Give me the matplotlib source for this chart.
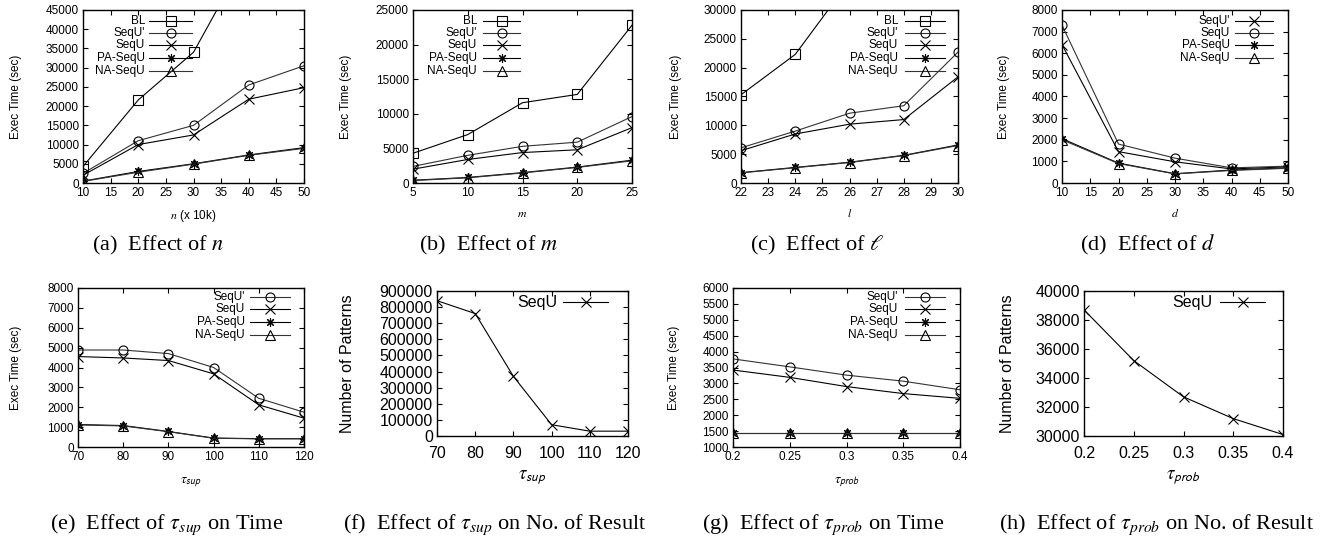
import matplotlib
matplotlib.use('Agg')
import matplotlib.pyplot as plt

plt.rcParams['font.family'] = ['Liberation Sans', 'DejaVu Sans']
plt.rcParams['mathtext.fontset'] = 'stix'

# ---------------- data ----------------
# (a) effect of n
a_x = [10, 20, 30, 40, 50]
a_bl = [4300, 21600, 34000, 60000, 85000]
a_sequp = [2500, 11000, 15000, 25500, 30500]
a_sequ = [2000, 10000, 12500, 21800, 24800]
a_pa = [500, 3000, 5000, 7300, 9200]
a_na = [400, 2800, 4900, 7200, 9000]

# (b) effect of m
b_x = [5, 10, 15, 20, 25]
b_bl = [4300, 7000, 11600, 12800, 22800]
b_sequp = [2400, 4000, 5300, 5900, 9600]
b_sequ = [2000, 3400, 4400, 4800, 8000]
b_pa = [400, 800, 1500, 2300, 3300]
b_na = [350, 750, 1450, 2250, 3200]

# (c) effect of l
c_x = [22, 24, 26, 28, 30]
c_bl = [15300, 22300, 35000, 45000, 60000]
c_sequp = [6100, 9000, 12100, 13400, 22700]
c_sequ = [5600, 8500, 10200, 11000, 18400]
c_pa = [1800, 2700, 3600, 4800, 6600]
c_na = [1750, 2650, 3550, 4750, 6500]

# (d) effect of d
d_x = [10, 20, 30, 40, 50]
d_sequp_x = [6400, 1450, 980, 650, 750]
d_sequ_o = [7300, 1800, 1150, 700, 780]
d_pa = [2050, 920, 430, 600, 700]
d_na = [2000, 900, 420, 580, 680]

# (e) effect of tau_sup on time
e_x = [70, 80, 90, 100, 110, 120]
e_sequp = [4880, 4880, 4700, 4000, 2450, 1750]
e_sequ = [4550, 4480, 4350, 3680, 2120, 1450]
e_pa = [1130, 1080, 780, 450, 420, 420]
e_na = [1110, 1060, 770, 440, 410, 410]

# (f) effect of tau_sup on number of results
f_x = [70, 80, 90, 100, 110, 120]
f_sequ = [840000, 760000, 370000, 70000, 30000, 30000]

# (g) effect of tau_prob on time
g_x = [0.2, 0.25, 0.3, 0.35, 0.4]
g_sequp = [3770, 3520, 3260, 3070, 2800]
g_sequ = [3420, 3190, 2900, 2680, 2530]
g_pa = [1450, 1450, 1450, 1450, 1450]
g_na = [1440, 1440, 1440, 1440, 1440]

# (h) effect of tau_prob on number of results
h_x = [0.2, 0.25, 0.3, 0.35, 0.4]
h_sequ = [38700, 35200, 32700, 31200, 30100]

prob_ticklabels = ['0.2', '0.25', '0.3', '0.35', '0.4']

# ---------------- styles ----------------
STY = {
    's': dict(marker='s', color='black'),
    'o': dict(marker='o', color='#333333'),
    'x': dict(marker='x', color='black'),
    '*': dict(marker=(8, 2, 0), color='black'),
    '^': dict(marker='^', color='#333333'),
}
LW = 0.8
MS = 6.5


def plot_series(ax, x, y, key):
    st = STY[key]
    ax.plot(x, y, color=st['color'], lw=LW, marker=st['marker'], ms=MS,
            mfc='none', mec='black', mew=0.8, clip_on=True)


def manual_legend(ax, entries, xt, x0, x1, ys, fs):
    for (label, key), y in zip(entries, ys):
        st = STY[key]
        ax.text(xt, y, label, transform=ax.transAxes, ha='right', va='center', fontsize=fs)
        ax.plot([x0, x1], [y, y], transform=ax.transAxes, color=st['color'], lw=LW)
        ax.plot([(x0 + x1) / 2], [y], transform=ax.transAxes, marker=st['marker'],
                ms=MS, mfc='none', mec='black', mew=0.8, lw=0)


def style_axes(ax, xticks, yticks, xlim, ylim, fs, xticklabels=None, xpad=3):
    ax.set_xlim(xlim)
    ax.set_ylim(ylim)
    ax.set_xticks(xticks)
    if xticklabels is not None:
        ax.set_xticklabels(xticklabels)
    ax.set_yticks(yticks)
    ax.tick_params(direction='in', top=True, right=True, length=3.5, width=0.8,
                   labelsize=fs, pad=3)
    ax.tick_params(axis='x', pad=xpad)
    for s in ax.spines.values():
        s.set_linewidth(1.0)


W, H = 1325, 539
fig = plt.figure(figsize=(W / 100, H / 100), dpi=100)


def axes_px(l, r, t, b):
    return fig.add_axes([l / W, 1 - b / H, (r - l) / W, (b - t) / H])


FS = 8.5
FSB = 11.5
five = [("BL", 's'), ("SeqU'", 'o'), ("SeqU", 'x'), ("PA-SeqU", '*'), ("NA-SeqU", '^')]
four = [("SeqU'", 'o'), ("SeqU", 'x'), ("PA-SeqU", '*'), ("NA-SeqU", '^')]
rows5 = [0.936, 0.867, 0.798, 0.725, 0.650]

# (a)
ax = axes_px(83, 304, 10, 183)
for y, k in [(a_bl, 's'), (a_sequp, 'o'), (a_sequ, 'x'), (a_pa, '*'), (a_na, '^')]:
    plot_series(ax, a_x, y, k)
manual_legend(ax, five, 0.28, 0.30, 0.495, rows5, FS)
style_axes(ax, range(10, 51, 5), range(0, 45001, 5000), (10, 50), (0, 45000), FS)
ax.set_ylabel('Exec Time (sec)', fontsize=FS)
ax.yaxis.set_label_coords(-0.276, 0.5)
ax.set_xlabel(r'$n$ (x 10k)', fontsize=FS)
ax.xaxis.set_label_coords(0.5, -0.145)

# (b)
ax = axes_px(413, 632, 10, 183)
for y, k in [(b_bl, 's'), (b_sequp, 'o'), (b_sequ, 'x'), (b_pa, '*'), (b_na, '^')]:
    plot_series(ax, b_x, y, k)
manual_legend(ax, five, 0.292, 0.32, 0.49, rows5, FS)
style_axes(ax, range(5, 26, 5), range(0, 25001, 5000), (5, 25), (0, 25000), FS)
ax.set_ylabel('Exec Time (sec)', fontsize=FS)
ax.yaxis.set_label_coords(-0.279, 0.5)
ax.set_xlabel(r'$m$', fontsize=FS)
ax.xaxis.set_label_coords(0.5, -0.145)

# (c)
ax = axes_px(741, 958, 10, 183)
for y, k in [(c_bl, 's'), (c_sequp, 'o'), (c_sequ, 'x'), (c_pa, '*'), (c_na, '^')]:
    plot_series(ax, c_x, y, k)
manual_legend(ax, five, 0.724, 0.756, 0.94, rows5, FS)
style_axes(ax, range(22, 31, 1), range(0, 30001, 5000), (22, 30), (0, 30000), FS)
ax.set_ylabel('Exec Time (sec)', fontsize=FS)
ax.yaxis.set_label_coords(-0.272, 0.5)
ax.set_xlabel(r'$l$', fontsize=FS)
ax.xaxis.set_label_coords(0.5, -0.145)

# (d)
ax = axes_px(1062, 1288, 10, 183)
for y, k in [(d_sequp_x, 'x'), (d_sequ_o, 'o'), (d_pa, '*'), (d_na, '^')]:
    plot_series(ax, d_x, y, k)
manual_legend(ax, [("SeqU'", 'x'), ("SeqU", 'o'), ("PA-SeqU", '*'), ("NA-SeqU", '^')],
              0.743, 0.765, 0.934, rows5[:4], FS)
style_axes(ax, range(10, 51, 5), range(0, 8001, 1000), (10, 50), (0, 8000), FS)
ax.set_ylabel('Exec Time (sec)', fontsize=FS)
ax.yaxis.set_label_coords(-0.23, 0.5)
ax.set_xlabel(r'$d$', fontsize=FS)
ax.xaxis.set_label_coords(0.5, -0.145)

rows4b = [0.943, 0.866, 0.785, 0.707]

# (e)
ax = axes_px(78, 304, 288, 447)
for y, k in [(e_sequp, 'o'), (e_sequ, 'x'), (e_pa, '*'), (e_na, '^')]:
    plot_series(ax, e_x, y, k)
manual_legend(ax, four, 0.739, 0.763, 0.94, rows4b, FS)
style_axes(ax, range(70, 121, 10), range(0, 8001, 1000), (70, 120), (0, 8000), FS)
ax.set_ylabel('Exec Time (sec)', fontsize=FS)
ax.yaxis.set_label_coords(-0.248, 0.5)
ax.set_xlabel(r'$\tau_{\mathsf{sup}}$', fontsize=FS + 1.5)
ax.xaxis.set_label_coords(0.5, -0.18)

# (f)
ax = axes_px(437, 628, 291, 436)
plot_series(ax, f_x, f_sequ, 'x')
manual_legend(ax, [("SeqU", 'x')], 0.628, 0.66, 0.895, [0.924], FSB)
style_axes(ax, range(70, 121, 10), range(0, 900001, 100000), (70, 120), (0, 900000), FSB,
           xpad=7)
ax.set_ylabel('Number of Patterns', fontsize=FSB)
ax.yaxis.set_label_coords(-0.43, 0.5)
ax.set_xlabel(r'$\tau_{\mathsf{sup}}$', fontsize=FSB + 2)
ax.xaxis.set_label_coords(0.5, -0.22)

# (g)
ax = axes_px(733, 960, 288, 447)
for y, k in [(g_sequp, 'o'), (g_sequ, 'x'), (g_pa, '*'), (g_na, '^')]:
    plot_series(ax, g_x, y, k)
manual_legend(ax, four, 0.727, 0.758, 0.934, rows4b, FS)
style_axes(ax, g_x, range(1000, 6001, 500), (0.2, 0.4), (1000, 6000), FS,
           xticklabels=prob_ticklabels)
ax.set_ylabel('Exec Time (sec)', fontsize=FS)
ax.yaxis.set_label_coords(-0.233, 0.5)
ax.set_xlabel(r'$\tau_{\mathsf{prob}}$', fontsize=FS + 1.5)
ax.xaxis.set_label_coords(0.5, -0.18)

# (h)
ax = axes_px(1084, 1283, 291, 436)
plot_series(ax, h_x, h_sequ, 'x')
manual_legend(ax, [("SeqU", 'x')], 0.643, 0.683, 0.91, [0.924], FSB)
style_axes(ax, h_x, range(30000, 40001, 2000), (0.2, 0.4), (30000, 40000), FSB,
           xticklabels=prob_ticklabels, xpad=7)
ax.set_ylabel('Number of Patterns', fontsize=FSB)
ax.yaxis.set_label_coords(-0.347, 0.5)
ax.set_xlabel(r'$\tau_{\mathsf{prob}}$', fontsize=FSB + 2)
ax.xaxis.set_label_coords(0.5, -0.22)

# captions
CFS = 16
serif = ['Liberation Serif', 'DejaVu Serif']
caps_top = [(158, r'(a)  Effect of $n$'), (488, r'(b)  Effect of $m$'),
            (817, r'(c)  Effect of $\ell$'), (1147, r'(d)  Effect of $d$')]
caps_bot = [(167, r'(e)  Effect of $\tau_{sup}$ on Time'),
            (495, r'(f)  Effect of $\tau_{sup}$ on No. of Result'),
            (823, r'(g)  Effect of $\tau_{prob}$ on Time'),
            (1157, r'(h)  Effect of $\tau_{prob}$ on No. of Result')]
for x, t in caps_top:
    fig.text(x / W, 1 - 245 / H, t, ha='center', va='center', fontsize=CFS, family=serif)
for x, t in caps_bot:
    fig.text(x / W, 1 - 525 / H, t, ha='center', va='center', fontsize=CFS, family=serif)

fig.savefig('out.png', dpi=100)
